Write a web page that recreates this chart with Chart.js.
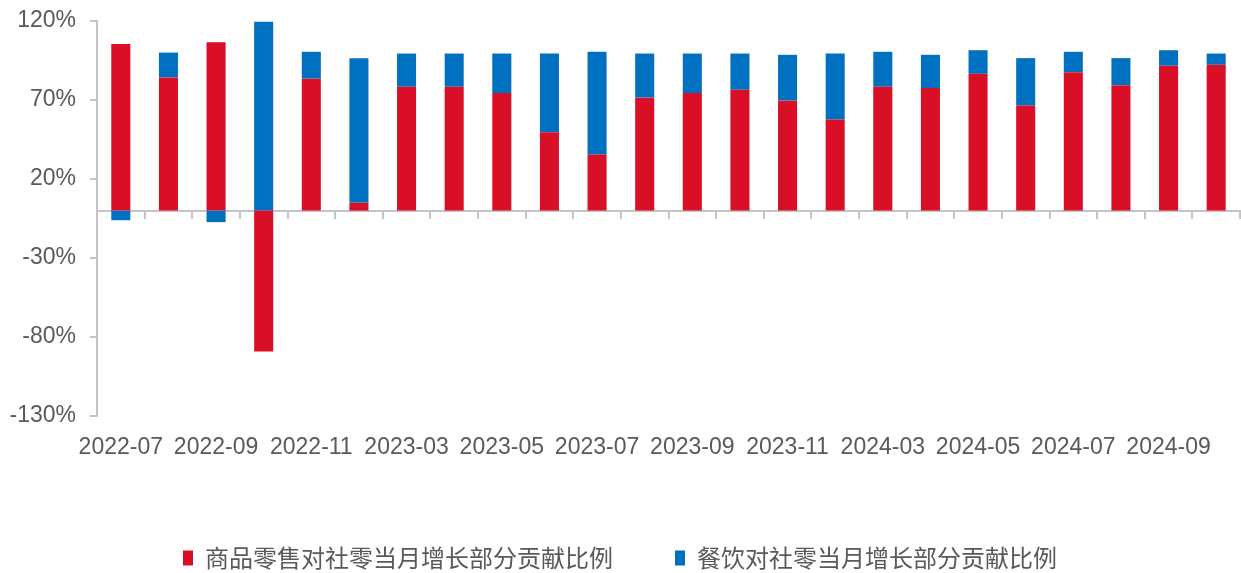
<!DOCTYPE html>
<html>
<head>
<meta charset="utf-8">
<script src="https://cdn.jsdelivr.net/npm/chart.js@4.4.1/dist/chart.umd.min.js"></script>
<style>
  html, body { margin: 0; padding: 0; background: #ffffff; }
  #wrap { width: 1241px; height: 573px; }
</style>
</head>
<body>
<div id="wrap"><canvas id="c" width="1241" height="573"></canvas></div>
<script>
const categories = ['2022-07','2022-08','2022-09','2022-10','2022-11','2022-12',
  '2023-03','2023-04','2023-05','2023-06','2023-07','2023-08','2023-09','2023-10','2023-11','2023-12',
  '2024-03','2024-04','2024-05','2024-06','2024-07','2024-08','2024-09','2024-10'];
const goodsShare = [105.5, 84.3, 106.6, -89.1, 83.5, 4.9, 78.4, 78.4, 74.4, 49.6, 35.5, 71.5,
  74.4, 76.5, 69.6, 57.6, 78.4, 77.6, 86.6, 66.5, 87.6, 79.4, 91.7, 92.3];
const cateringShare = [-6.1, 15.7, -7.3, 119.6, 17.0, 91.6, 21.0, 21.0, 25.0, 49.8, 65.0, 27.9,
  25.0, 22.9, 29.0, 41.8, 22.1, 21.0, 14.9, 30.0, 12.9, 17.1, 9.8, 7.1];
const seriesNames = ['商品零售对社零当月增长部分贡献比例', '餐饮对社零当月增长部分贡献比例'];
const yTicks = { min: -130, max: 120, step: 50 };

const axisColor = '#C4C4C4';
const textColor = '#595959';
const latin = "'Liberation Sans', Arial, sans-serif";

function noPad(s) { s.paddingTop = 0; s.paddingBottom = 0; s.paddingLeft = 0; s.paddingRight = 0; }

new Chart(document.getElementById('c'), {
  type: 'bar',
  data: {
    labels: categories,
    datasets: [
      { label: seriesNames[0], data: goodsShare, backgroundColor: '#D80F27', borderWidth: 0,
        categoryPercentage: 1.0, barPercentage: 0.4 },
      { label: seriesNames[1], data: cateringShare, backgroundColor: '#0070C0', borderWidth: 0,
        categoryPercentage: 1.0, barPercentage: 0.4 }
    ]
  },
  options: {
    responsive: false,
    animation: false,
    devicePixelRatio: 1,
    layout: { padding: { top: 21, bottom: 0, left: 0, right: 1 } },
    plugins: {
      tooltip: { enabled: false },
      legend: {
        position: 'bottom',
        maxHeight: 89,
        labels: {
          boxWidth: 10, boxHeight: 15, padding: 62,
          color: textColor,
          font: { family: "'Noto Sans CJK SC', 'Liberation Sans', sans-serif", size: 24 }
        }
      }
    },
    scales: {
      x: {
        stacked: true,
        position: 'bottom',
        border: { display: false },
        grid: { display: false, drawTicks: false },
        ticks: {
          autoSkip: false, maxRotation: 0, minRotation: 0, padding: 18,
          color: textColor, font: { family: latin, size: 23 },
          callback: function(v, i) { return i % 2 === 0 ? categories[i] : ''; }
        },
        afterFit: function(s) { s.height = 68; noPad(s); }
      },
      x2: {
        type: 'category',
        labels: categories,
        position: { y: 0 },
        offset: true,
        border: { display: true, color: axisColor, width: 2 },
        grid: { offset: true, drawOnChartArea: false, drawTicks: true, tickLength: 7, color: axisColor, lineWidth: 2 },
        ticks: { display: false },
        afterFit: function(s) { noPad(s); }
      },
      y: {
        stacked: true,
        min: yTicks.min, max: yTicks.max,
        border: { display: true, color: axisColor, width: 2 },
        grid: { drawOnChartArea: false, drawTicks: true, tickLength: 7, color: axisColor, lineWidth: 2 },
        ticks: {
          stepSize: yTicks.step, padding: 14,
          color: textColor, font: { family: latin, size: 23 },
          callback: function(v) { return v + '%'; }
        },
        afterFit: function(s) { s.width = 97; noPad(s); }
      }
    }
  }
});
</script>
</body>
</html>
